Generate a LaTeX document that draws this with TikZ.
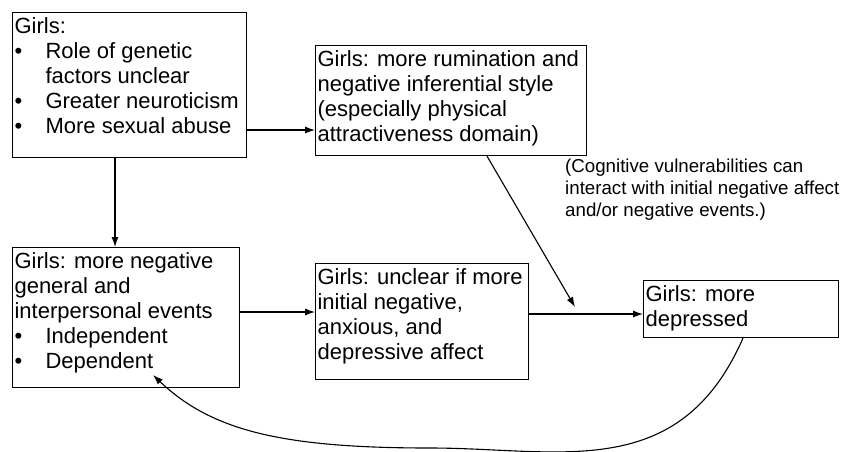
\documentclass[tikz,border=0pt]{standalone}
\usepackage{fontspec}
\setmainfont{Liberation Sans}
\usetikzlibrary{arrows.meta}

\newcommand{\boxtext}[3]{\parbox[t][#2][t]{#1}{\raggedright\rule{0pt}{21pt}#3}}
\newcommand{\bul}{\makebox[31pt][l]{\textbullet}}
\newcommand{\ind}{\hspace*{31pt}}

\begin{document}
\begin{tikzpicture}[x=1pt, y=-1pt, font=\fontsize{22}{25}\selectfont]

\tikzstyle{textbox}=[draw=black, line width=1.1pt, inner xsep=2pt, inner ysep=0pt, anchor=north west]
\tikzstyle{notetext}=[inner sep=0pt, anchor=north west, font=\fontsize{18.7}{22}\selectfont]
\tikzstyle{connect}=[-{Latex[length=10pt,width=7pt]}, line width=1.1pt]

\path[fill=white, use as bounding box] (0,0) rectangle (843,451);

\node[textbox] (genes) at (12,12) {\boxtext{230pt}{145pt}{Girls:\\
  \bul Role of genetic\\ \ind factors unclear\\
  \bul Greater neuroticism\\ \bul More sexual abuse}};
\node[textbox] (rumination) at (315,45) {\boxtext{267pt}{110pt}{Girls: more rumination and\\
  negative inferential style\\ (especially physical\\ attractiveness domain)}};
\node[textbox] (events) at (12,247) {\boxtext{223pt}{140pt}{Girls: more negative\\
  general and\\ interpersonal events\\ \bul Independent\\ \bul Dependent}};
\node[textbox] (affect) at (315,263) {\boxtext{209pt}{116pt}{Girls: unclear if more\\
  initial negative,\\ anxious, and\\ depressive affect}};
\node[textbox] (depressed) at (643,280) {\boxtext{191pt}{57pt}{Girls: more\\ depressed}};

\node[notetext] (interact) at (565,157) {\parbox[t]{280pt}{\raggedright\rule{0pt}{15pt}(Cognitive vulnerabilities can\\
  interact with initial negative affect\\ and/or negative events.)}};

\coordinate (meet) at (575,307);
\coordinate (bottom) at (430,448);
\coordinate (dep) at (153,375);

\draw[connect] (genes.east |- 0,130) -- (rumination.west |- 0,130);
\draw[connect] (genes.south -| 115,0) -- (events.north -| 115,0);
\draw[connect] (events.east |- 0,312) -- (affect.west |- 0,312);
\draw[connect] (affect.east |- 0,314) -- (depressed.west |- 0,314);
\draw[connect] (rumination.south -| 487,0) -- (meet);

% feedback from depression back to dependent events
\draw[connect] (depressed.south -| 743,0) .. controls (679,484) and (560,448) .. (bottom)
  .. controls (280,448) and (211,430) .. (dep);

\end{tikzpicture}
\end{document}
